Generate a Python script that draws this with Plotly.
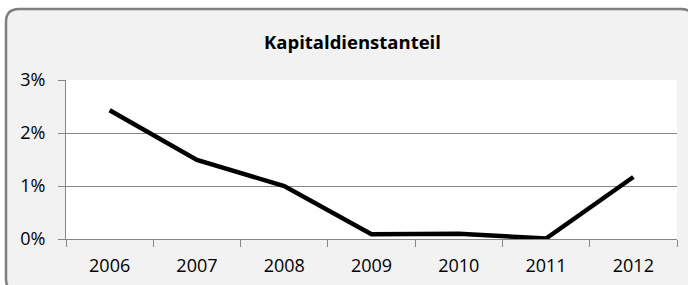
import plotly.graph_objects as go

years = ["2006", "2007", "2008", "2009", "2010", "2011", "2012"]
share = [0.0243, 0.0149, 0.0100, 0.0009, 0.0010, 0.0001, 0.0117]
y_ticks = [0, 0.01, 0.02, 0.03]
y_tick_labels = ["0%", "1%", "2%", "3%"]
title_text = "Kapitaldienstanteil"

W, H = 688, 285
L, R, T, B = 66, 11, 80, 46
pw, ph = W - L - R, H - T - B


def px(x):
    return (x - L) / pw


def py(y):
    return (H - B - y) / ph


# rounded frame (pixel coords -> paper coords)
x0, y0, x1, y1, r = 6, 9, 694, 292, 13
path = (
    f"M {px(x0 + r)},{py(y0)} L {px(x1 - r)},{py(y0)} "
    f"Q {px(x1)},{py(y0)} {px(x1)},{py(y0 + r)} "
    f"L {px(x1)},{py(y1 - r)} Q {px(x1)},{py(y1)} {px(x1 - r)},{py(y1)} "
    f"L {px(x0 + r)},{py(y1)} Q {px(x0)},{py(y1)} {px(x0)},{py(y1 - r)} "
    f"L {px(x0)},{py(y0 + r)} Q {px(x0)},{py(y0)} {px(x0 + r)},{py(y0)} Z"
)

fig = go.Figure(
    go.Scatter(
        x=years,
        y=share,
        mode="lines",
        line=dict(color="black", width=4.5),
        hoverinfo="skip",
    )
)

font = "Open Sans, DejaVu Sans, sans-serif"
grey = "#868686"

fig.update_layout(
    width=W,
    height=H,
    margin=dict(l=L, r=R, t=T, b=B, pad=0),
    paper_bgcolor="white",
    plot_bgcolor="white",
    showlegend=False,
    font=dict(family=font, size=18, color="black"),
    shapes=[
        dict(
            type="path",
            path=path,
            xref="paper",
            yref="paper",
            line=dict(color="#7f7f7f", width=2.5),
            fillcolor="#f2f2f2",
            layer="below",
        ),
        dict(
            type="rect",
            x0=0, x1=1, y0=0, y1=1,
            xref="paper",
            yref="paper",
            line=dict(width=0),
            fillcolor="white",
            layer="below",
        ),
    ],
    annotations=[
        dict(
            text=f"<b>{title_text}</b>",
            x=px(352),
            y=py(41),
            xref="paper",
            yref="paper",
            xanchor="center",
            yanchor="middle",
            showarrow=False,
            font=dict(family=font, size=18.5, color="black"),
        )
    ],
    xaxis=dict(
        type="category",
        range=[-0.5, len(years) - 0.5],
        tickson="boundaries",
        ticks="outside",
        ticklen=7,
        tickcolor=grey,
        showline=True,
        linecolor=grey,
        linewidth=1,
        showgrid=False,
        zeroline=False,
        tickfont=dict(size=18),
        ticklabelstandoff=10,
        automargin=False,
        fixedrange=True,
    ),
    yaxis=dict(
        range=[0, 0.03],
        tickvals=y_ticks,
        ticktext=y_tick_labels,
        ticks="outside",
        ticklen=7,
        tickcolor=grey,
        showline=True,
        linecolor=grey,
        linewidth=1,
        showgrid=True,
        gridcolor=grey,
        gridwidth=1,
        zeroline=False,
        tickfont=dict(size=18),
        ticklabelstandoff=9,
        automargin=False,
        fixedrange=True,
    ),
)

fig.write_html(
    "out.html",
    config={"displayModeBar": False},
    post_script="document.body.style.margin='0';document.body.style.overflow='hidden';",
)
